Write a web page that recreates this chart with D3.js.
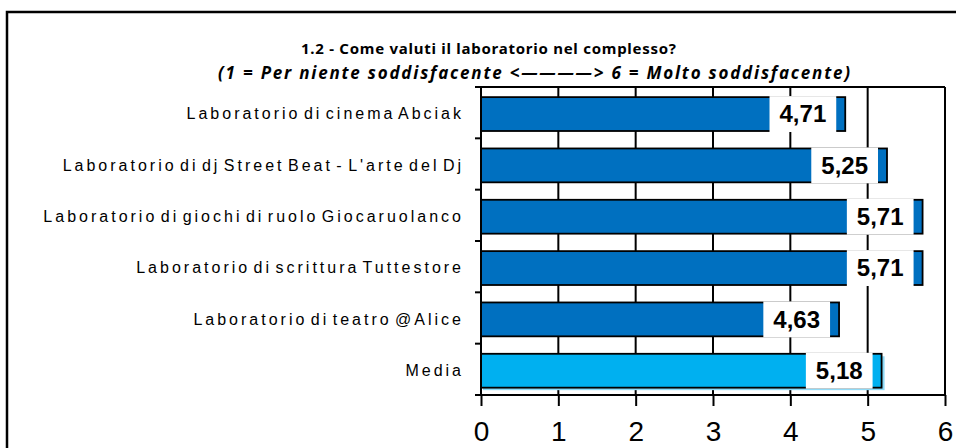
<!DOCTYPE html>
<html>
<head>
<meta charset="utf-8">
<script src="https://cdn.jsdelivr.net/npm/d3@7"></script>
<style>
  html, body { margin: 0; padding: 0; background: #fff; }
  svg { display: block; }
</style>
</head>
<body>
<svg id="chart" width="956" height="448"></svg>
<script>
// Survey results: average satisfaction per workshop (scale 1-6)
const categories = [
  "Laboratorio di cinema Abciak",
  "Laboratorio di dj Street Beat - L'arte del Dj",
  "Laboratorio di giochi di ruolo Giocaruolanco",
  "Laboratorio di scrittura Tuttestore",
  "Laboratorio di teatro @Alice",
  "Media"
];
const values = [4.71, 5.25, 5.71, 5.71, 4.63, 5.18];
const xTicks = [0, 1, 2, 3, 4, 5, 6];
const titleText = "1.2 - Come valuti il laboratorio nel complesso?";
const subtitleText = "(1 = Per niente soddisfacente <\u2014\u2014\u2014\u2014> 6 = Molto soddisfacente)";

const svg = d3.select("#chart");
const W = 956, H = 448;
const plot = { left: 481, right: 945, top: 87, bottom: 395 };

const x = d3.scaleLinear().domain([0, 6]).range([plot.left, plot.right]);
const y = d3.scaleBand().domain(categories).range([plot.top, plot.bottom])
  .paddingInner(0.34).paddingOuter(0.17).align(0.58);

const itLocale = d3.formatLocale({ decimal: ",", thousands: ".", grouping: [3], currency: ["", "\u00a0€"] });
const fmt = itLocale.format(".2f");

// outer frame
svg.append("rect")
  .attr("x", 7).attr("y", 12).attr("width", W + 20).attr("height", H + 20)
  .attr("fill", "none").attr("stroke", "#000").attr("stroke-width", 2.5);

// titles
svg.append("text")
  .attr("x", 301).attr("y", 54)
  .attr("textLength", 375).attr("lengthAdjust", "spacing")
  .attr("font-family", "Noto Sans, sans-serif")
  .attr("font-size", 15).attr("font-weight", "bold").attr("fill", "#000")
  .text(titleText);
svg.append("text")
  .attr("x", 218).attr("y", 79)
  .attr("textLength", 632).attr("lengthAdjust", "spacing")
  .attr("font-family", "Noto Sans, sans-serif")
  .attr("font-size", 17).attr("font-weight", "bold").attr("font-style", "italic").attr("fill", "#000")
  .text(subtitleText);

// vertical gridlines
svg.append("g").selectAll("line")
  .data(xTicks.slice(1))
  .join("line")
  .attr("x1", d => x(d)).attr("x2", d => x(d))
  .attr("y1", plot.top).attr("y2", plot.bottom)
  .attr("stroke", "#000").attr("stroke-width", 2);

// top border of the plot area
svg.append("line")
  .attr("x1", plot.left).attr("x2", plot.right)
  .attr("y1", plot.top).attr("y2", plot.top)
  .attr("stroke", "#000").attr("stroke-width", 2);

// shadow under the average bar
const isMean = d => d === "Media";
svg.append("g").selectAll("rect")
  .data(categories.filter(isMean))
  .join("rect")
  .attr("x", x(0) + 2)
  .attr("y", d => y(d) + 2.5)
  .attr("width", d => x(values[categories.indexOf(d)]) - x(0) + 1)
  .attr("height", y.bandwidth())
  .attr("fill", "#8fdaf6");

// bars
svg.append("g").selectAll("rect")
  .data(categories)
  .join("rect")
  .attr("x", x(0))
  .attr("y", d => y(d))
  .attr("width", (d, i) => x(values[i]) - x(0))
  .attr("height", y.bandwidth())
  .attr("fill", d => isMean(d) ? "#00b0f0" : "#0070c0")
  .attr("stroke", "#000").attr("stroke-width", 1.8);

// value labels on white boxes near the bar end
const lab = svg.append("g").selectAll("g")
  .data(categories)
  .join("g");
lab.each(function (d, i) {
  const g = d3.select(this);
  const end = x(values[i]);
  const cy = y(d) + y.bandwidth() / 2;
  const t = g.append("text")
    .attr("font-family", "Liberation Sans, Arial, sans-serif")
    .attr("font-size", 24).attr("font-weight", "bold")
    .attr("text-anchor", "middle")
    .attr("fill", "#000")
    .attr("dy", "0.35em")
    .text(fmt(values[i]));
  const w = t.node().getComputedTextLength() + 20;
  const bx = end - 9 - w;
  g.insert("rect", "text")
    .attr("x", bx).attr("y", y(d) - 1)
    .attr("width", w).attr("height", y.bandwidth() + 2)
    .attr("fill", "#fff");
  t.attr("x", bx + w / 2).attr("y", cy);
});

// category axis
const yAxis = svg.append("g")
  .attr("transform", `translate(${plot.left},0)`)
  .call(d3.axisLeft(y).tickSize(0).tickPadding(17));
yAxis.select(".domain").remove();
yAxis.selectAll("text")
  .attr("font-family", "Liberation Sans, Arial, sans-serif")
  .attr("font-size", 16)
  .attr("letter-spacing", "3px")
  .attr("word-spacing", "-4px")
  .attr("fill", "#000");

// category boundary ticks
svg.append("g").selectAll("line")
  .data(d3.range(categories.length + 1))
  .join("line")
  .attr("x1", plot.left - 6).attr("x2", plot.left)
  .attr("y1", i => plot.top + i * (plot.bottom - plot.top) / categories.length)
  .attr("y2", i => plot.top + i * (plot.bottom - plot.top) / categories.length)
  .attr("stroke", "#000").attr("stroke-width", 2);

// left axis line
svg.append("line")
  .attr("x1", plot.left).attr("x2", plot.left)
  .attr("y1", plot.top).attr("y2", plot.bottom)
  .attr("stroke", "#000").attr("stroke-width", 2);

// value axis
const xAxis = svg.append("g")
  .attr("transform", `translate(0,${plot.bottom})`)
  .call(d3.axisBottom(x).tickValues(xTicks).tickSize(11).tickPadding(15).tickFormat(d3.format("d")));
xAxis.select(".domain").attr("stroke", "#000").attr("stroke-width", 2).attr("d", `M${plot.left},0H${plot.right}`);
xAxis.selectAll(".tick line").attr("stroke", "#000").attr("stroke-width", 2);
xAxis.selectAll("text")
  .attr("font-family", "Liberation Sans, Arial, sans-serif")
  .attr("font-size", 28)
  .attr("fill", "#000");
</script>
</body>
</html>
